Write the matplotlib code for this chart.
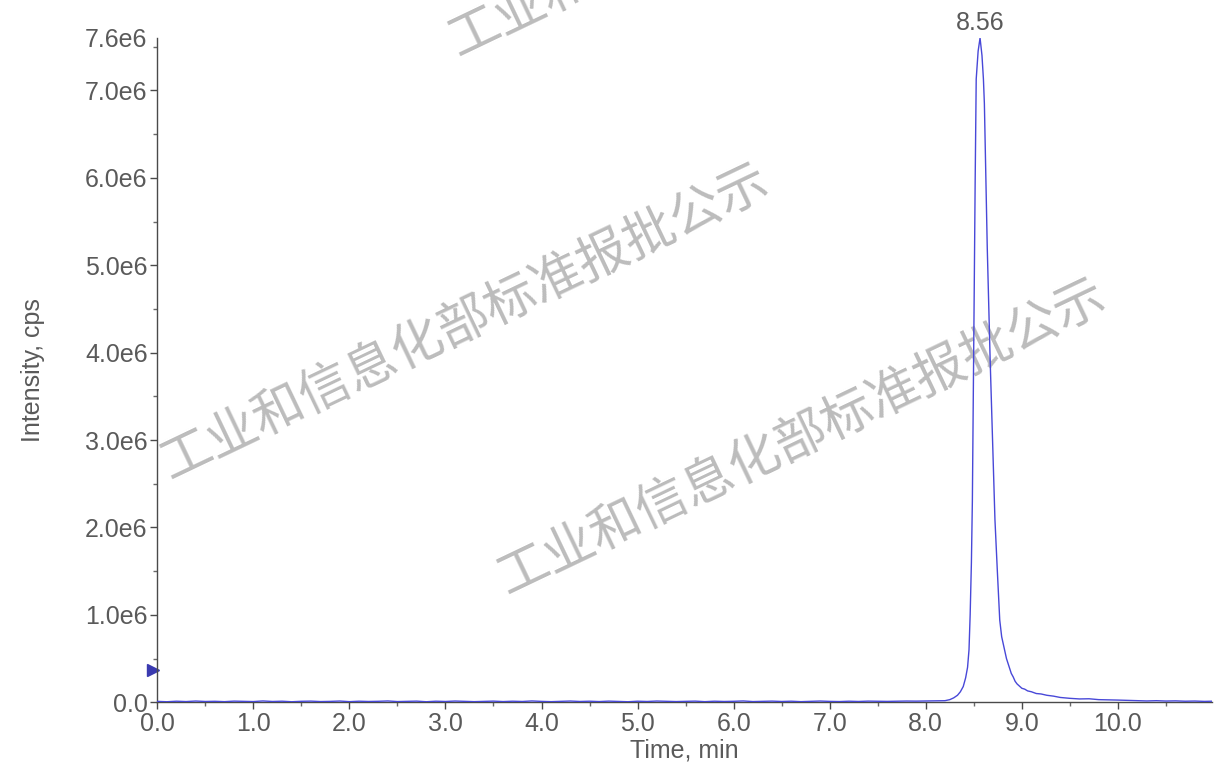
import numpy as np
import matplotlib.pyplot as plt
from matplotlib.ticker import FixedLocator, MultipleLocator
from matplotlib.transforms import blended_transform_factory

# baseline before the peak, sampled every 0.1 min from 0.0 min (intensity in kcps)
baseline_step = 0.1
baseline_kcps = [10, 6, 12, 8, 14, 9, 11, 7, 13, 10, 8, 15, 9, 12, 6, 11, 13, 8, 10, 14,
                 7, 12, 9, 11, 15, 8, 10, 13, 6, 12, 9, 14, 11, 7, 10, 13, 8, 12, 9, 15,
                 10, 7, 11, 14, 9, 12, 8, 13, 10, 6, 12, 9, 14, 11, 8, 10, 13, 7, 12, 9,
                 11, 15, 8, 10, 13, 9, 12, 7, 11, 14, 10, 8, 12, 9, 13, 11, 10, 12, 14, 13,
                 15, 17, 18]

# peak and tail (time in min, intensity in Mcps)
peak_time = [8.25, 8.29, 8.33, 8.36, 8.39, 8.415, 8.435, 8.45, 8.462, 8.475, 8.485,
             8.495, 8.505, 8.514, 8.525, 8.545, 8.565, 8.585, 8.60, 8.61, 8.626, 8.64,
             8.67, 8.695, 8.72, 8.745, 8.77, 8.79, 8.80, 8.82, 8.84, 8.855, 8.87, 8.89,
             8.91, 8.93, 8.95, 8.97, 9.00, 9.03, 9.06, 9.10, 9.15, 9.20, 9.26, 9.33,
             9.40, 9.50, 9.60, 9.70, 9.80, 9.90, 10.00, 10.10, 10.20, 10.30, 10.40,
             10.50, 10.60, 10.70, 10.80, 10.90, 10.98]
peak_mcps = [0.03, 0.05, 0.08, 0.12, 0.18, 0.28, 0.40, 0.60, 1.00, 1.60, 2.30,
             3.50, 4.80, 5.95, 7.13, 7.45, 7.60, 7.40, 7.13, 6.85, 5.95, 5.20,
             3.92, 3.00, 2.09, 1.50, 0.94, 0.75, 0.70, 0.60, 0.50, 0.45, 0.40, 0.33,
             0.29, 0.24, 0.21, 0.19, 0.16, 0.15, 0.13, 0.12, 0.10, 0.095, 0.08, 0.07,
             0.055, 0.045, 0.038, 0.040, 0.030, 0.028, 0.025, 0.022, 0.020, 0.015, 0.018,
             0.014, 0.016, 0.012, 0.014, 0.010, 0.012]

peak_label = '8.56'
threshold_level = 0.37e6

x_ticks = [0, 1, 2, 3, 4, 5, 6, 7, 8, 9, 10]
y_ticks = [0, 1e6, 2e6, 3e6, 4e6, 5e6, 6e6, 7e6, 7.6e6]
y_tick_labels = ['0.0', '1.0e6', '2.0e6', '3.0e6', '4.0e6', '5.0e6', '6.0e6', '7.0e6', '7.6e6']

watermark = '工业和信息化部标准报批公示'

plt.rcParams['font.family'] = ['Liberation Sans', 'DejaVu Sans']

label_grey = '#5a5a5a'
line_blue = '#4848d8'

base_t = np.arange(len(baseline_kcps)) * baseline_step
time = np.concatenate([base_t, peak_time])
intensity = np.concatenate([np.array(baseline_kcps) * 1e3, np.array(peak_mcps) * 1e6])

fig = plt.figure(figsize=(12.19, 7.67), dpi=100)
ax = fig.add_axes([0.129, 0.0844, 0.8653, 0.8661])

ax.plot(time, intensity, color=line_blue, linewidth=1.0, zorder=3)
ax.annotate(peak_label, xy=(8.565, max(intensity)), xytext=(0, 2), textcoords='offset points',
            ha='center', va='bottom', fontsize=18, color=label_grey, annotation_clip=False)

# threshold marker just left of the y axis
trans = blended_transform_factory(ax.transAxes, ax.transData)
ax.plot([-0.004], [threshold_level], marker='>', color='#3a3ab0', markersize=9,
        transform=trans, clip_on=False, linestyle='none')

ax.set_xlim(0, 10.98)
ax.set_ylim(0, 7.6e6)
ax.xaxis.set_major_locator(FixedLocator(x_ticks))
ax.set_xticklabels([f'{v:.1f}' for v in x_ticks])
ax.xaxis.set_minor_locator(MultipleLocator(0.5))
ax.yaxis.set_major_locator(FixedLocator(y_ticks))
ax.set_yticklabels(y_tick_labels)
ax.yaxis.set_minor_locator(MultipleLocator(0.5e6))

for side in ['top', 'right']:
    ax.spines[side].set_visible(False)
for side in ['left', 'bottom']:
    ax.spines[side].set_color('#4a4a4a')
    ax.spines[side].set_linewidth(1.0)

ax.tick_params(which='major', length=5, width=1, color='#4a4a4a', labelsize=18,
               labelcolor=label_grey, pad=2)
ax.tick_params(which='minor', length=3, width=1, color='#6a6a6a')
ax.yaxis.get_major_ticks()[-1].tick1line.set_visible(False)

ax.set_xlabel('Time, min', fontsize=18, color=label_grey, labelpad=2)
ax.set_ylabel('Intensity, cps', fontsize=18, color=label_grey, labelpad=29)

# watermarks (pixel positions of text centres, from the top-left corner)
wm_centres = [(465, 322), (802, 437), (753, -101)]
H = 767
for cx, cy in wm_centres:
    ax.text(cx / 1219, 1 - cy / H, watermark, transform=fig.transFigure, rotation=25.5,
            rotation_mode='anchor', ha='center', va='center', fontsize=37,
            family=['Noto Sans CJK SC', 'DejaVu Sans'], color='#bcbcbc',
            zorder=1, clip_on=False)

fig.savefig('out.png', dpi=100, facecolor='white')
